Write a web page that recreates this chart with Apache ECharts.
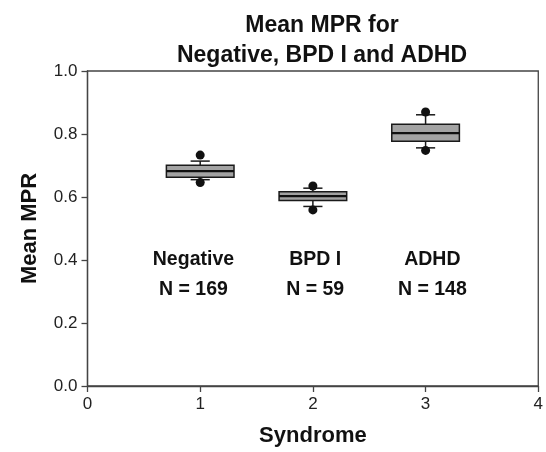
<!DOCTYPE html>
<html>
<head>
<meta charset="utf-8">
<script src="https://cdn.jsdelivr.net/npm/echarts@6/dist/echarts.min.js"></script>
<style>html,body{margin:0;padding:0;background:#fff}#c{width:546px;height:452px}</style>
</head>
<body>
<div id="c"></div>
<script>
// Data
var categories = ['Negative', 'BPD I', 'ADHD'];
var sampleSizes = [169, 59, 148];
var xPositions = [1, 2, 3];
// [lowerWhisker, Q1, median, Q3, upperWhisker]
var boxNegative = [0.655, 0.663, 0.682, 0.701, 0.714];
var boxBPD = [0.570, 0.589, 0.603, 0.617, 0.628];
var boxADHD = [0.756, 0.777, 0.803, 0.831, 0.861];
var outliersNegative = [0.646, 0.733];
var outliersBPD = [0.559, 0.635];
var outliersADHD = [0.748, 0.870];
var labelX = [0.94, 2.02, 3.06];
var labelY = [0.40, 0.305];
var yTicks = [0, 0.2, 0.4, 0.6, 0.8, 1.0];

var boxes = [boxNegative, boxBPD, boxADHD];
var outliers = [outliersNegative, outliersBPD, outliersADHD];

var boxData = boxes.map(function (b, i) { return [xPositions[i]].concat(b); });
var outlierData = [];
outliers.forEach(function (o, i) { o.forEach(function (v) { outlierData.push([xPositions[i], v]); }); });
var labelData = [];
categories.forEach(function (c, i) {
  labelData.push([labelX[i], labelY[0], c]);
  labelData.push([labelX[i], labelY[1], 'N = ' + sampleSizes[i]]);
});

var FONT = '"Liberation Sans", Arial, Helvetica, sans-serif';
var chart = echarts.init(document.getElementById('c'), null, {renderer: 'canvas'});
chart.setOption({
  animation: false,
  backgroundColor: '#ffffff',
  title: {
    text: 'Mean MPR for\nNegative, BPD I and ADHD',
    left: 317,
    textAlign: 'center',
    top: 6,
    textStyle: {fontFamily: FONT, fontWeight: 'bold', fontSize: 23, color: '#111', lineHeight: 30}
  },
  grid: {left: 87.5, right: 5, top: 71, bottom: 63, show: true, borderColor: '#444', borderWidth: 1.3, containLabel: false},
  xAxis: {
    type: 'value', min: 0, max: 4, interval: 1,
    name: 'Syndrome', nameLocation: 'middle', nameGap: 39,
    nameTextStyle: {fontFamily: FONT, fontWeight: 'bold', fontSize: 22, color: '#111'},
    axisLine: {show: true, onZero: false, lineStyle: {color: '#444', width: 1.3}},
    axisTick: {show: true, inside: false, length: 6, lineStyle: {color: '#444', width: 1.3}},
    axisLabel: {fontFamily: FONT, fontSize: 17, color: '#222', margin: 10},
    splitLine: {show: false}
  },
  yAxis: {
    type: 'value', min: 0, max: 1, interval: 0.2,
    name: 'Mean MPR', nameLocation: 'middle', nameGap: 47,
    nameTextStyle: {fontFamily: FONT, fontWeight: 'bold', fontSize: 22, color: '#111'},
    axisLine: {show: true, onZero: false, lineStyle: {color: '#444', width: 1.3}},
    axisTick: {show: true, inside: false, length: 6, lineStyle: {color: '#444', width: 1.3}},
    axisLabel: {fontFamily: FONT, fontSize: 17, color: '#222', margin: 10,
      formatter: function (v) { return v.toFixed(1); }},
    splitLine: {show: false}
  },
  series: [
    {
      type: 'custom',
      data: boxData,
      encode: {x: 0, y: [1, 2, 3, 4, 5]},
      renderItem: function (params, api) {
        var x = api.value(0);
        var half = api.size([0.6, 0])[0] / 2;
        var capHalf = api.size([0.17, 0])[0] / 2;
        var pLo = api.coord([x, api.value(1)]);
        var pQ1 = api.coord([x, api.value(2)]);
        var pMed = api.coord([x, api.value(3)]);
        var pQ3 = api.coord([x, api.value(4)]);
        var pHi = api.coord([x, api.value(5)]);
        var cx = pMed[0];
        var lineStyle = {stroke: '#1a1a1a', lineWidth: 1.5};
        return {
          type: 'group',
          children: [
            {type: 'line', shape: {x1: cx, y1: pQ3[1], x2: cx, y2: pHi[1]}, style: lineStyle},
            {type: 'line', shape: {x1: cx - capHalf, y1: pHi[1], x2: cx + capHalf, y2: pHi[1]}, style: lineStyle},
            {type: 'line', shape: {x1: cx, y1: pQ1[1], x2: cx, y2: pLo[1]}, style: lineStyle},
            {type: 'line', shape: {x1: cx - capHalf, y1: pLo[1], x2: cx + capHalf, y2: pLo[1]}, style: lineStyle},
            {type: 'rect', shape: {x: cx - half, y: pQ3[1], width: half * 2, height: pQ1[1] - pQ3[1]},
              style: {fill: '#a3a3a3', stroke: '#1a1a1a', lineWidth: 1.5}},
            {type: 'line', shape: {x1: cx - half, y1: pMed[1], x2: cx + half, y2: pMed[1]},
              style: {stroke: '#111', lineWidth: 2.2}}
          ]
        };
      },
      silent: true
    },
    {
      type: 'scatter',
      data: outlierData,
      symbol: 'circle',
      symbolSize: 9,
      itemStyle: {color: '#111', opacity: 1},
      silent: true,
      z: 5
    },
    {
      type: 'custom',
      data: labelData,
      encode: {x: 0, y: 1},
      silent: true,
      renderItem: function (params, api) {
        var p = api.coord([api.value(0), api.value(1)]);
        return {
          type: 'text',
          x: p[0], y: p[1],
          style: {
            text: labelData[params.dataIndex][2],
            fill: '#111',
            font: 'bold 19.5px ' + FONT,
            textAlign: 'center',
            textVerticalAlign: 'middle'
          }
        };
      }
    }
  ]
});
</script>
</body>
</html>
